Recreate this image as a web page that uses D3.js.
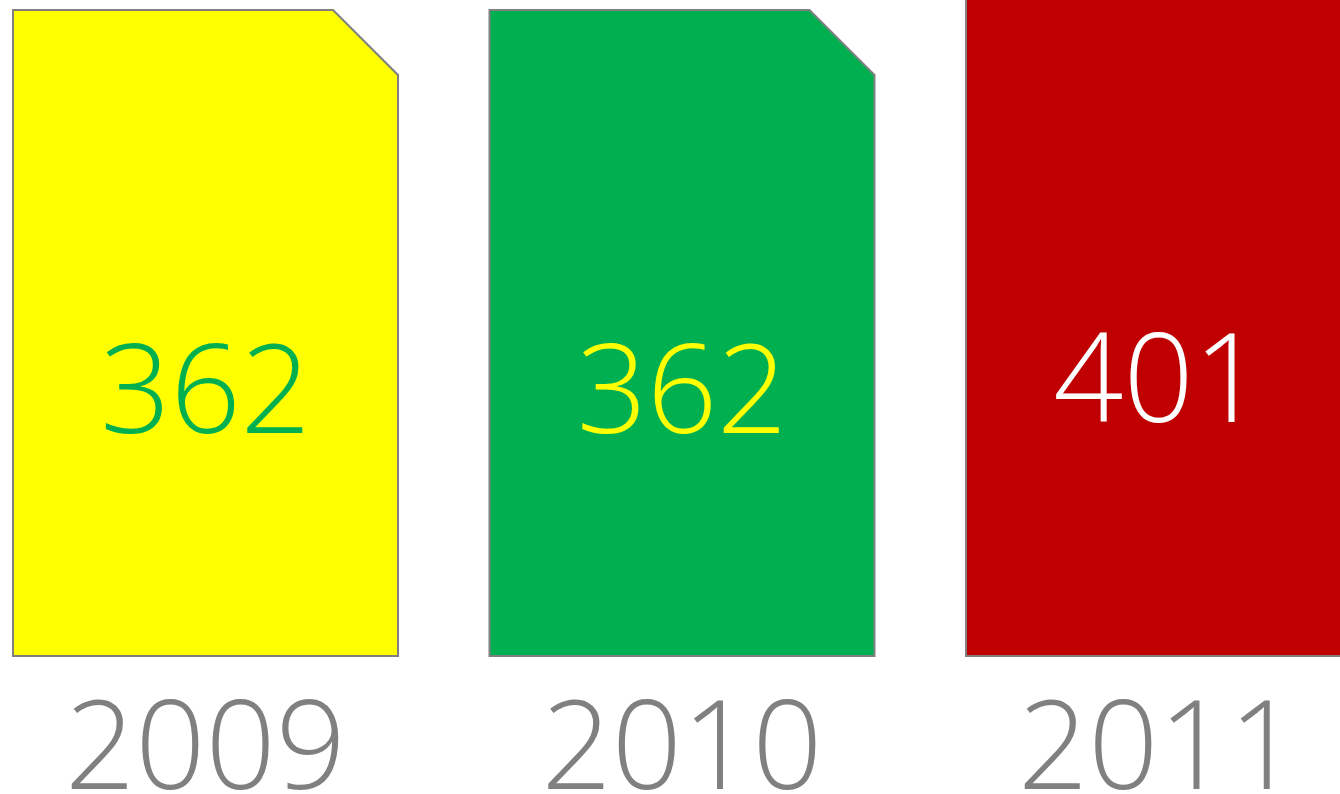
<!DOCTYPE html>
<html>
<head>
<meta charset="utf-8">
<script src="https://cdn.jsdelivr.net/npm/d3@7"></script>
<style>
  body { margin: 0; background: #fff; overflow: hidden; }
  svg { display: block; }
</style>
</head>
<body>
<script>
// data
var years = ["2009", "2010", "2011"];
var values = [362, 362, 401];
var fillColors = ["#FFFF00", "#00B050", "#C00000"];
var valueColors = ["#00B050", "#FFFF00", "#FFFFFF"];

var width = 1340, height = 794;
var baseY = 656;
var cardW = 385, cut = 65;

var svg = d3.select("body").append("svg")
	.attr("width", width)
	.attr("height", height);

// left edge of each card
var x = d3.scalePoint()
	.domain(years)
	.range([13, 966]);

// bar height in px, 362 -> 646
var h = d3.scaleLinear().domain([0, 362]).range([0, 646]);

var cards = svg.selectAll("g.card")
	.data(years)
	.enter().append("g")
	.attr("class", "card");

// card shape with clipped top-right corner
cards.append("path")
	.attr("d", function(d, i){
		var x0 = x(d), x1 = x(d) + cardW;
		var y0 = baseY - h(values[i]);
		return "M" + x0 + "," + baseY +
			"L" + x0 + "," + y0 +
			"L" + (x1 - cut) + "," + y0 +
			"L" + x1 + "," + (y0 + cut) +
			"L" + x1 + "," + baseY + "Z";
	})
	.attr("fill", function(d, i){ return fillColors[i]; })
	.attr("stroke", "#808080")
	.attr("stroke-width", 2);

// value labels
cards.append("text")
	.attr("x", function(d){ return x(d) + cardW / 2; })
	.attr("y", function(d, i){ return 535 - 0.158 * h(values[i]); })
	.attr("text-anchor", "middle")
	.style("font-family", "'Open Sans', sans-serif")
	.style("font-weight", 300)
	.style("font-size", "123px")
	.attr("fill", function(d, i){ return valueColors[i]; })
	.text(function(d, i){ return values[i]; });

// year labels
cards.append("text")
	.attr("x", function(d){ return x(d) + cardW / 2; })
	.attr("y", 789)
	.attr("text-anchor", "middle")
	.style("font-family", "'Open Sans', sans-serif")
	.style("font-weight", 300)
	.style("font-size", "123px")
	.attr("fill", "#808080")
	.text(function(d){ return d; });
</script>
</body>
</html>
